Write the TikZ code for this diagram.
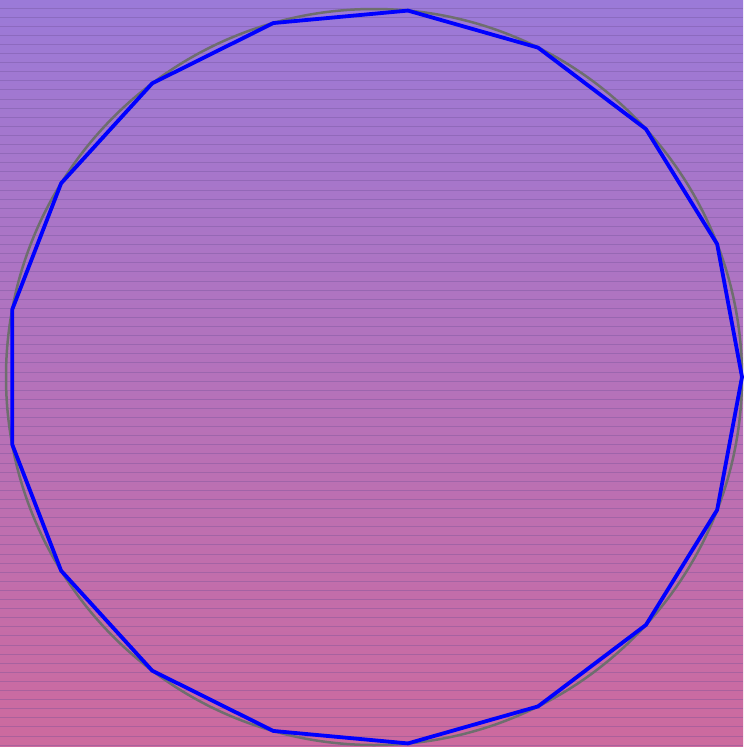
\documentclass[tikz,border=0pt]{standalone}
\usetikzlibrary{calc}
\definecolor{BgTop}{RGB}{155,122,216}
\definecolor{BgBot}{RGB}{205,106,158}
\definecolor{RuleLine}{RGB}{110,80,150}
\definecolor{RimGray}{RGB}{110,110,110}

\begin{document}
\begin{tikzpicture}[x=0.1mm,y=-0.1mm]
  \useasboundingbox (0,0) rectangle (743,747);
  \shade[top color=BgTop,bottom color=BgBot] (0,0) rectangle (743,747);
  \foreach \k in {0,...,81}
    \draw[RuleLine,opacity=0.35,line width=0.1mm] (0,8+9.1*\k)--(743,8+9.1*\k);
  \coordinate (O) at (374,377);
  \draw[RimGray,line width=0.25mm] (O) circle (368);
  \foreach \i in {0,...,16}
    \coordinate (v\i) at ($(O)+({-360/17*\i}:368)$);
  \draw[blue,line width=0.38mm,line join=round]
    (v0) \foreach \i in {1,...,16} {--(v\i)} --cycle;
\end{tikzpicture}
\end{document}
